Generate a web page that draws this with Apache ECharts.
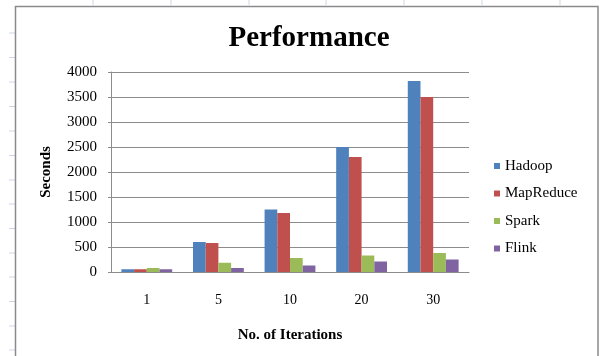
<!DOCTYPE html>
<html>
<head>
<meta charset="utf-8">
<script src="https://cdn.jsdelivr.net/npm/echarts@6/dist/echarts.min.js"></script>
<style>
  html, body { margin: 0; padding: 0; background: #ffffff; }
  #chart { width: 600px; height: 356px; }
</style>
</head>
<body>
<div id="chart"></div>
<script>
// Iteration counts on the category axis
const iterations = ['1', '5', '10', '20', '30'];

// Run time in seconds for each framework
const hadoop    = [55, 600, 1250, 2500, 3820];
const mapReduce = [55, 580, 1180, 2300, 3500];
const spark     = [80, 185, 280, 330, 380];
const flink     = [55, 80, 130, 210, 250];

const seriesNames = ['Hadoop', 'MapReduce', 'Spark', 'Flink'];
const seriesColors = ['#4F81BD', '#C0504D', '#9BBB59', '#8064A2'];
const seriesData = [hadoop, mapReduce, spark, flink];

const serif = '"Liberation Serif", "Times New Roman", serif';

// Light worksheet cell-grid stubs peeking out around the chart frame
const sheetStubs = [];
const stubColor = '#cdd5e3';
[93, 171, 249, 326, 404, 482, 560].forEach(function (x) {
  sheetStubs.push({ type: 'line', silent: true,
    shape: { x1: x, y1: 0, x2: x, y2: 5 },
    style: { stroke: stubColor, lineWidth: 1 } });
});
[33, 57.5, 82, 106.5, 131, 155.5, 180, 204, 228.5, 253, 277, 301.5, 326, 350].forEach(function (y) {
  sheetStubs.push({ type: 'line', silent: true,
    shape: { x1: 9, y1: y, x2: 15, y2: y },
    style: { stroke: stubColor, lineWidth: 1 } });
});

const chart = echarts.init(document.getElementById('chart'), null, { renderer: 'canvas' });

chart.setOption({
  backgroundColor: '#ffffff',
  animation: false,
  title: {
    text: 'Performance',
    left: 304,
    top: 19,
    textAlign: 'center',
    textStyle: { fontFamily: serif, fontSize: 29, fontWeight: 'bold', color: '#000' }
  },
  legend: {
    orient: 'vertical',
    left: 494,
    top: 158,
    padding: 0,
    itemWidth: 6,
    itemHeight: 6,
    itemGap: 11.5,
    icon: 'rect',
    textStyle: { fontFamily: serif, fontSize: 15, color: '#000', lineHeight: 16 },
    data: seriesNames
  },
  grid: { left: 111, right: 131, top: 72, bottom: 84, containLabel: false },
  xAxis: {
    type: 'category',
    data: iterations,
    name: 'No. of Iterations',
    nameLocation: 'middle',
    nameGap: 56,
    nameTextStyle: { fontFamily: serif, fontSize: 15, fontWeight: 'bold', color: '#000' },
    axisLine: { lineStyle: { color: '#8c8c8c', width: 1 } },
    axisTick: { show: false },
    axisLabel: { fontFamily: serif, fontSize: 14, color: '#000', margin: 21 }
  },
  yAxis: {
    type: 'value',
    min: 0,
    max: 4000,
    interval: 500,
    name: 'Seconds',
    nameLocation: 'middle',
    nameGap: 57,
    nameTextStyle: { fontFamily: serif, fontSize: 15, fontWeight: 'bold', color: '#000' },
    axisLine: { show: true, lineStyle: { color: '#8c8c8c', width: 1 } },
    axisTick: { show: true, length: 3, lineStyle: { color: '#8c8c8c' } },
    axisLabel: {
      fontFamily: serif, fontSize: 15, color: '#000', margin: 14,
      formatter: function (v) { return String(v); }
    },
    splitLine: { lineStyle: { color: '#8c8c8c', width: 1 } }
  },
  series: seriesNames.map(function (name, i) {
    return {
      name: name,
      type: 'bar',
      data: seriesData[i],
      barGap: '0%',
      barCategoryGap: '29%',
      itemStyle: { color: seriesColors[i] }
    };
  }),
  graphic: sheetStubs.concat([
    {
      type: 'rect',
      silent: true,
      shape: { x: 15.5, y: 6.5, width: 582.5, height: 400 },
      style: { fill: 'none', stroke: '#8a8a8a', lineWidth: 1.5 },
      z: 100
    }
  ])
});
</script>
</body>
</html>
